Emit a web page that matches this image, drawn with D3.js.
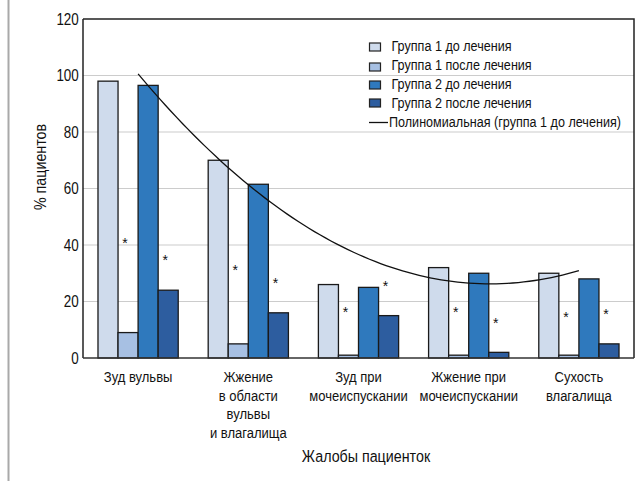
<!DOCTYPE html>
<html>
<head>
<meta charset="utf-8">
<script src="https://cdn.jsdelivr.net/npm/d3@7"></script>
<style>
  html, body { margin: 0; padding: 0; background: #fff; }
  svg { display: block; }
  text { font-family: "Liberation Sans", Arial, sans-serif; fill: #111; }
</style>
</head>
<body>
<svg id="chart" width="641" height="481"></svg>
<script>
// Complaint categories (multi-line labels)
const categories = [
  ["Зуд вульвы"],
  ["Жжение", "в области", "вульвы", "и влагалища"],
  ["Зуд при", "мочеиспускании"],
  ["Жжение при", "мочеиспускании"],
  ["Сухость", "влагалища"]
];
const seriesNames = [
  "Группа 1 до лечения",
  "Группа 1 после лечения",
  "Группа 2 до лечения",
  "Группа 2 после лечения"
];
// % of patients per category
const group1Before = [98, 70, 26, 32, 30];
const group1After  = [9, 5, 1, 1, 1];
const group2Before = [96.5, 61.5, 25, 30, 28];
const group2After  = [24, 16, 15, 2, 5];
// Significance markers (heights in %), over "after" bars
const starsGroup1 = [41.2, 31.5, 16.6, 16.6, 14.8];
const starsGroup2 = [34.9, 27, 26, 12.7, 15.8];
const yTicks = [0, 20, 40, 60, 80, 100, 120];
const trendLabel = "Полиномиальная (группа 1 до лечения)";
const xTitle = "Жалобы пациенток";
const yTitle = "% пациентов";

const colors = ["#cfdbec", "#a7c0e3", "#2f79bd", "#2d5d9f"];
const seriesValues = [group1Before, group1After, group2Before, group2After];

// horizontal condensing of the sans font
const SX = 0.84;

const svg = d3.select("#chart");
const L = 83, R = 634, T = 19, B = 358;

const x0 = d3.scaleBand().domain(d3.range(categories.length)).range([L, R]).padding(0);
const bw = x0.bandwidth();
const x1 = d3.scaleBand().domain(d3.range(seriesNames.length))
  .range([bw * 0.136, bw * 0.864]).padding(0);
const y = d3.scaleLinear().domain([0, 120]).range([B, T]);

// condensed text placed at (x, y)
function ctext(parent, x, yy, size, anchor) {
  return parent.append("g").attr("transform", `translate(${x},${yy}) scale(${SX},1)`)
    .append("text").attr("text-anchor", anchor || "start").style("font-size", size + "px");
}

// frame line at the far left
svg.append("line").attr("x1", 8.5).attr("x2", 8.5).attr("y1", 0).attr("y2", 481)
  .attr("stroke", "#a9a9a9").attr("stroke-width", 2);

// grid lines
svg.append("g").selectAll("line").data(yTicks.filter(d => d > 0 && d < 120)).join("line")
  .attr("x1", L).attr("x2", R)
  .attr("y1", d => y(d)).attr("y2", d => y(d))
  .attr("stroke", "#cccccc").attr("stroke-width", 1.2);

// bars
const rows = [];
categories.forEach((c, i) => seriesValues.forEach((s, j) => rows.push({ i, j, v: s[i] })));
svg.append("g").selectAll("rect").data(rows).join("rect")
  .attr("x", d => x0(d.i) + x1(d.j))
  .attr("y", d => y(d.v))
  .attr("width", x1.bandwidth())
  .attr("height", d => y(0) - y(d.v))
  .attr("fill", d => colors[d.j])
  .attr("stroke", "#1a1a1a").attr("stroke-width", 1.3);

// plot border (top/right) and axes
svg.append("path")
  .attr("d", `M${L},${T}H${R}V${B}`)
  .attr("fill", "none").attr("stroke", "#222").attr("stroke-width", 1.5);
svg.append("line").attr("x1", L).attr("x2", L).attr("y1", T).attr("y2", B)
  .attr("stroke", "#222").attr("stroke-width", 1.5);
svg.append("line").attr("x1", L).attr("x2", R).attr("y1", B).attr("y2", B)
  .attr("stroke", "#333").attr("stroke-width", 1.5);

// y tick labels via axis
const yAxis = d3.axisLeft(y).tickValues(yTicks).tickSize(0).tickPadding(5);
const gy = svg.append("g").attr("transform", `translate(${L},0)`).call(yAxis);
gy.select(".domain").remove();
gy.selectAll("text")
  .attr("transform", `scale(${SX},1)`)
  .style("font-size", "16px").attr("fill", "#111")
  .style("font-family", '"Liberation Sans", Arial, sans-serif');

// significance stars
const starRows = [];
categories.forEach((c, i) => {
  starRows.push({ i, j: 1, v: starsGroup1[i] });
  starRows.push({ i, j: 3, v: starsGroup2[i] });
});
svg.append("g").selectAll("text").data(starRows).join("text")
  .attr("x", d => x0(d.i) + x1(d.j) + x1.bandwidth() / 2 - 3)
  .attr("y", d => y(d.v) + 6)
  .attr("text-anchor", "middle")
  .style("font-size", "14px")
  .attr("fill", "#333")
  .text("*");

// polynomial (2nd order) least-squares trend for group 1 before treatment
const xs = d3.range(1, group1Before.length + 1);
const xm = d3.mean(xs);
const ym = d3.mean(group1Before);
const t = xs.map(v => v - xm);
const p2mean = d3.mean(t.map(u => u * u));
const p2 = t.map(v => v * v - p2mean);
const b1 = d3.sum(t.map((v, k) => v * group1Before[k])) / d3.sum(t.map(v => v * v));
const b2 = d3.sum(p2.map((v, k) => v * group1Before[k])) / d3.sum(p2.map(v => v * v));
const trend = xv => ym + b1 * (xv - xm) + b2 * ((xv - xm) ** 2 - p2mean);
const xc = d3.scaleLinear().domain([1, group1Before.length])
  .range([x0(0) + bw / 2, x0(group1Before.length - 1) + bw / 2]);
const trendPts = d3.range(1, group1Before.length + 0.001, 0.05).map(v => [xc(v), y(trend(v))]);
svg.append("path").attr("d", d3.line()(trendPts))
  .attr("fill", "none").attr("stroke", "#111").attr("stroke-width", 1.3);

// category labels
categories.forEach((lines, i) => {
  const tx = ctext(svg, x0(i) + bw / 2, 382, 15.5, "middle");
  lines.forEach((ln, k) => tx.append("tspan").attr("x", 0).attr("dy", k === 0 ? 0 : 18.7).text(ln));
});

// axis titles
ctext(svg, 366, 462, 17, "middle").text(xTitle);
svg.append("g").attr("transform", "translate(46,167) rotate(-90) scale(" + SX + ",1)")
  .append("text").attr("text-anchor", "middle").style("font-size", "17px").text(yTitle);

// legend
const legend = svg.append("g");
const rowBase = [51, 70, 89, 108, 127];
const sqTop = [43, 63, 81, 99];
seriesNames.forEach((name, j) => {
  legend.append("rect").attr("x", 369.5).attr("y", sqTop[j]).attr("width", 11).attr("height", 8)
    .attr("fill", colors[j]).attr("stroke", "#222").attr("stroke-width", 1.2);
  ctext(legend, 391.5, rowBase[j], 15, "start").text(name);
});
legend.append("line").attr("x1", 369).attr("x2", 388).attr("y1", 122.5).attr("y2", 122.5)
  .attr("stroke", "#111").attr("stroke-width", 1.3);
ctext(legend, 389, rowBase[4], 15, "start").text(trendLabel);
</script>
</body>
</html>
